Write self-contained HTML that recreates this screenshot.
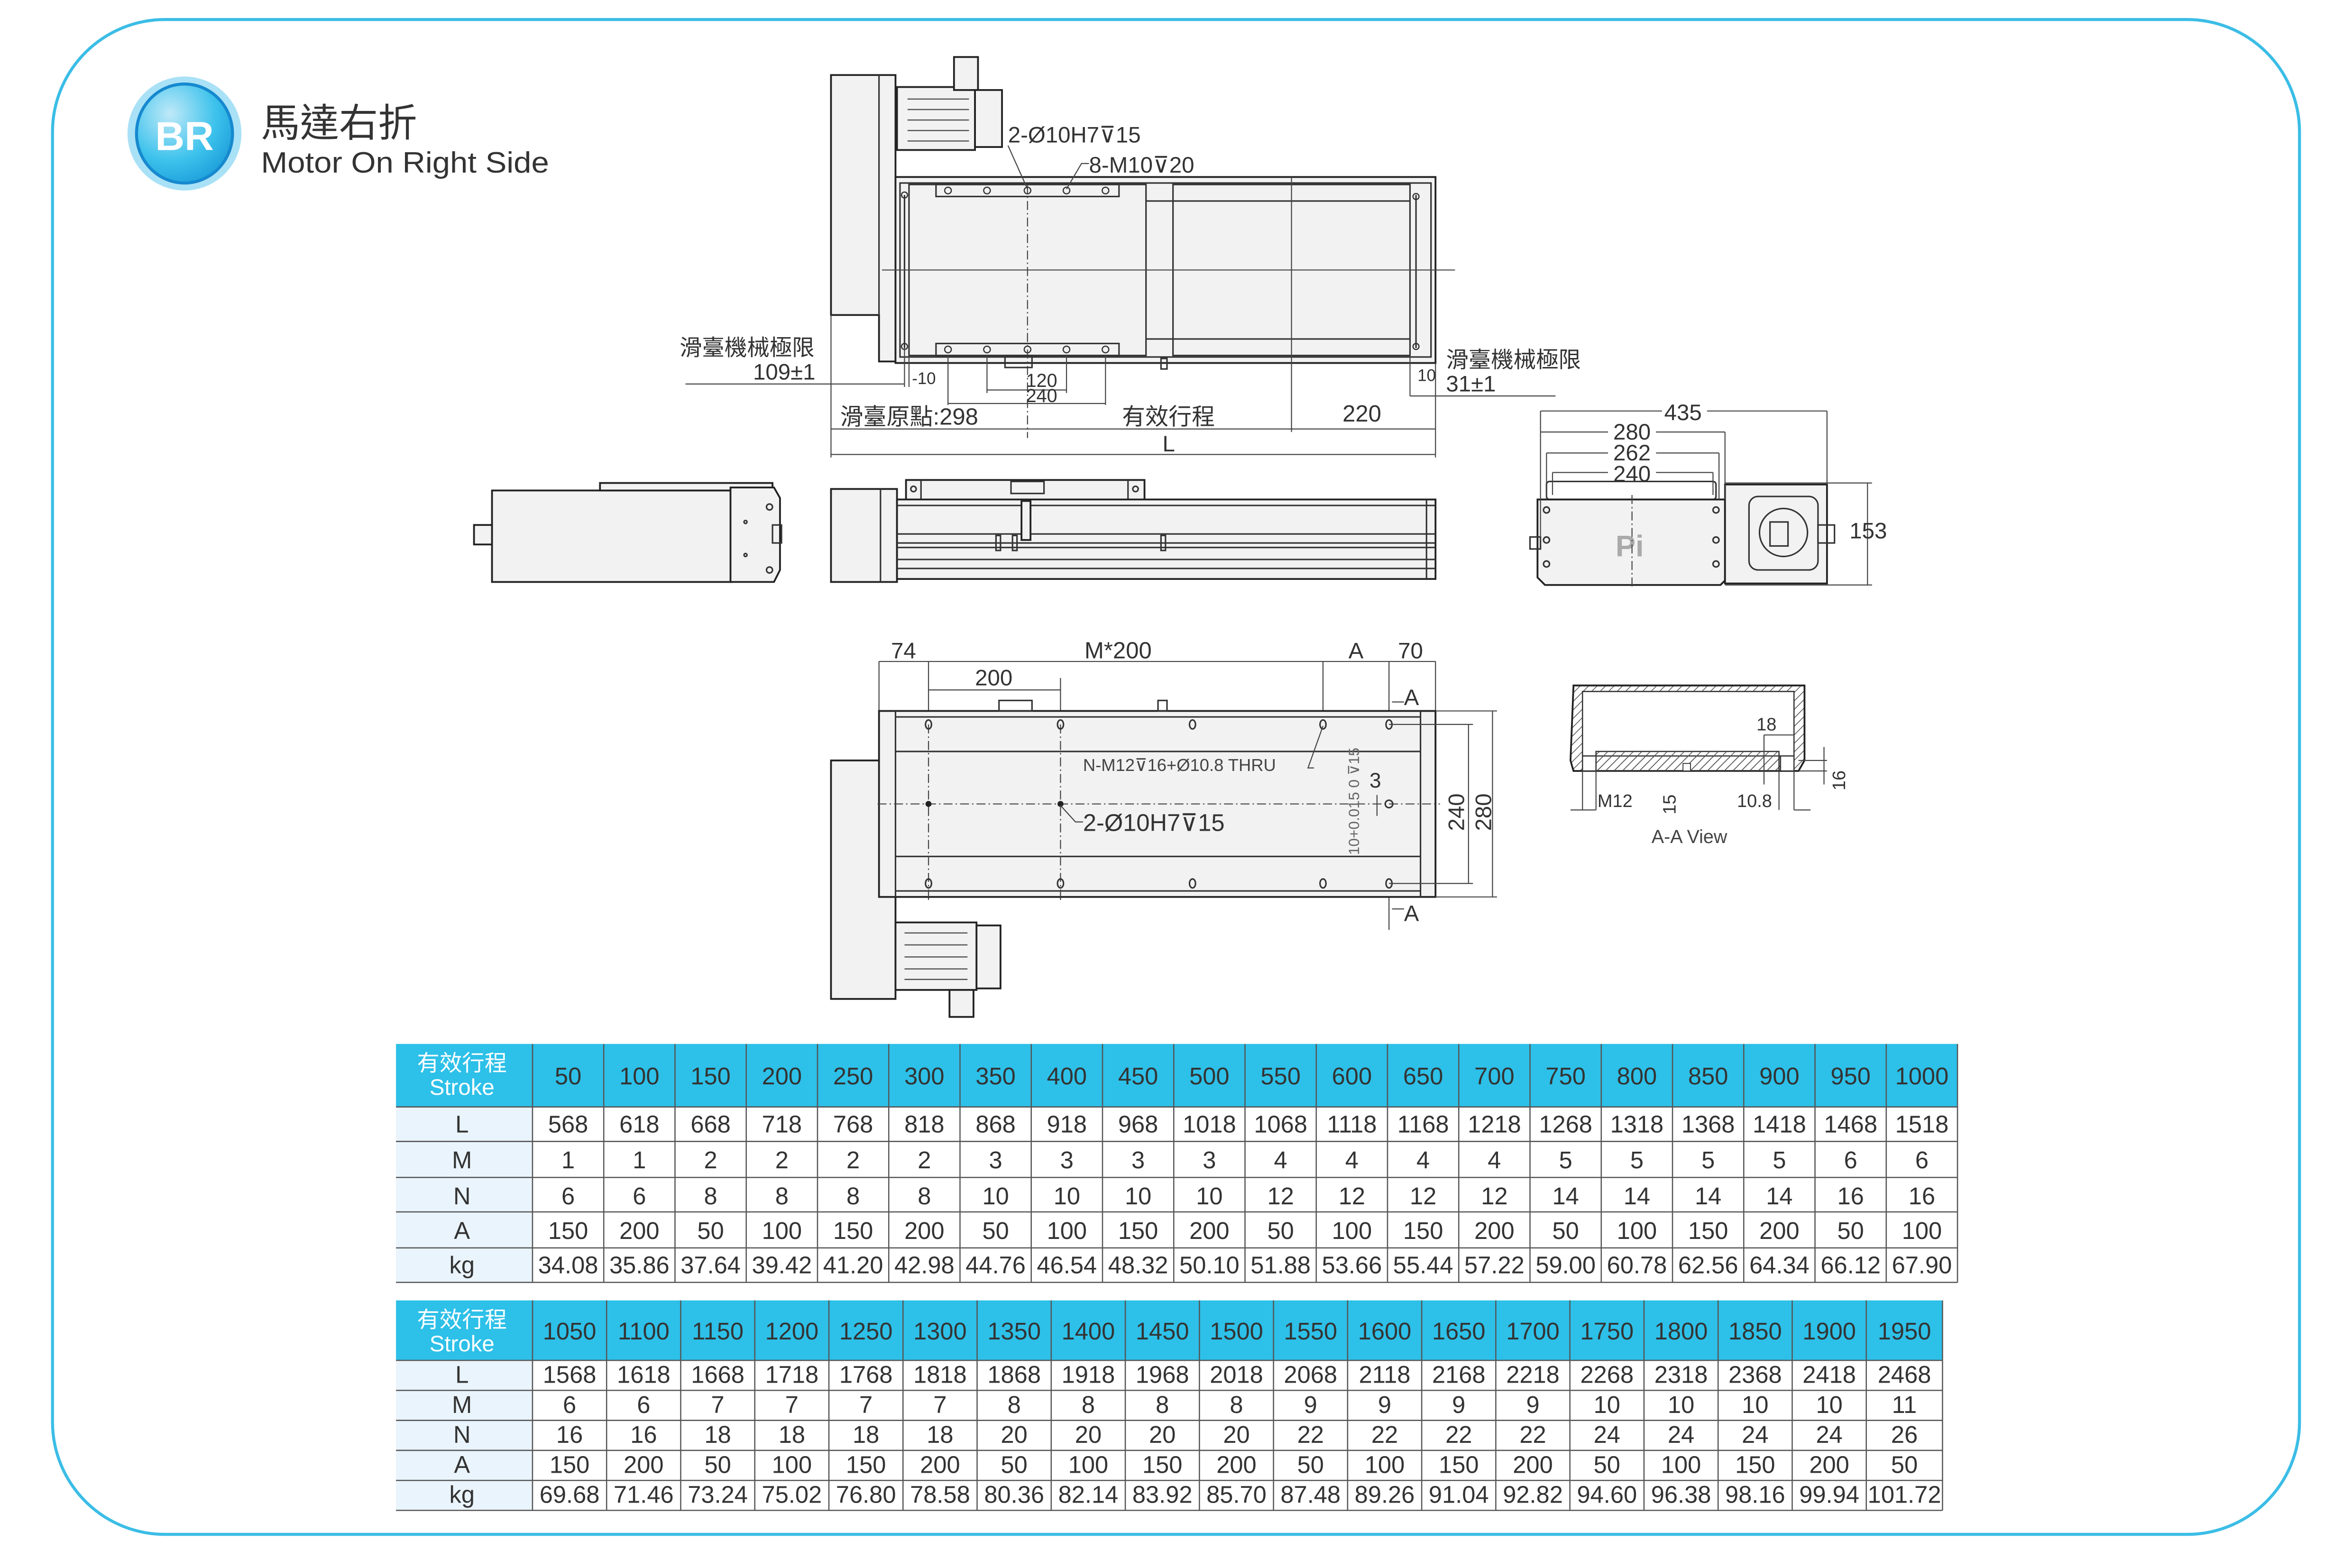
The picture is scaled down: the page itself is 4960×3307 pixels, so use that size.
<!DOCTYPE html>
<html><head><meta charset="utf-8"><style>
html,body{margin:0;padding:0;background:#fff;}
svg{display:block;}
text{font-family:"Liberation Sans","Noto Sans CJK TC",sans-serif;fill:#333;}
.t{font-size:16px;text-anchor:middle;}
.h{font-size:16px;text-anchor:middle;fill:#fff;}
.s{stroke:#333;fill:none;stroke-width:1;}
.b{stroke:#222;fill:#f2f2f2;stroke-width:1.2;}
.d{stroke:#444;fill:none;stroke-width:0.7;}
.dash{stroke:#444;fill:none;stroke-width:0.7;stroke-dasharray:6 2 1 2;}
.gl{stroke:#555;stroke-width:0.8;}
</style></head><body>
<svg width="4960" height="3307" viewBox="0 0 1568 1045.4" xmlns="http://www.w3.org/2000/svg">
<defs>
<radialGradient id="g1" cx="0.35" cy="0.3" r="0.8"><stop offset="0" stop-color="#bfe9f8"/><stop offset="0.6" stop-color="#3cc2ec"/><stop offset="1" stop-color="#1a9ad8"/></radialGradient>
<pattern id="hatch" width="4" height="4" patternUnits="userSpaceOnUse" patternTransform="rotate(45)"><line x1="0" y1="0" x2="0" y2="4" stroke="#555" stroke-width="1"/></pattern>
</defs>
<rect x="0" y="0" width="1568" height="1046" fill="#fff"/>
<rect x="35" y="13" width="1498" height="1010" rx="75" ry="75" fill="none" stroke="#3bbde6" stroke-width="2"/>

<!-- header -->
<ellipse cx="123" cy="89" rx="38" ry="38" fill="#a9e1f6"/>
<ellipse cx="123" cy="89" rx="32" ry="33" fill="url(#g1)" stroke="#1689cf" stroke-width="2"/>
<text x="123" y="100" style="font-size:27px;font-weight:bold;fill:#fff;text-anchor:middle;">BR</text>
<text x="174" y="91" style="font-size:26px;fill:#333;">馬達右折</text>
<text x="174" y="115" style="font-size:19.5px;fill:#333;" textLength="192" lengthAdjust="spacingAndGlyphs">Motor On Right Side</text>

<!-- ============ TOP VIEW ============ -->
<rect class="b" x="598" y="58" width="52" height="42"/>
<rect class="b" x="636" y="38" width="16" height="22"/>
<rect class="b" x="650" y="60" width="18" height="38"/>
<line class="gl" x1="605" y1="66" x2="646" y2="66"/><line class="gl" x1="605" y1="73" x2="646" y2="73"/>
<line class="gl" x1="605" y1="80" x2="646" y2="80"/><line class="gl" x1="605" y1="87" x2="646" y2="87"/>
<line class="gl" x1="605" y1="94" x2="646" y2="94"/>
<path class="b" d="M554 50 H597 V241 H586 V210 H554 Z"/>
<line class="s" x1="586" y1="50" x2="586" y2="210"/>
<rect class="b" x="597" y="118" width="360" height="124"/>
<rect class="s" x="600" y="122" width="354" height="116" fill="#f2f2f2"/>
<rect class="s" x="606" y="123" width="158" height="114" fill="#f4f4f4"/>
<rect class="s" x="782" y="123" width="158" height="114"/>
<line class="s" x1="764" y1="134" x2="940" y2="134" stroke-width="1.5"/>
<line class="s" x1="764" y1="226" x2="940" y2="226" stroke-width="1.5"/>
<line class="s" x1="603" y1="130" x2="603" y2="232"/><line class="s" x1="944" y1="130" x2="944" y2="232"/>
<rect class="s" x="624" y="123" width="122" height="8" fill="#fff"/>
<rect class="s" x="624" y="229" width="122" height="8" fill="#fff"/>
<g fill="none" stroke="#333" stroke-width="0.8">
<circle cx="632" cy="127" r="2.2"/><circle cx="658" cy="127" r="2.2"/><circle cx="685" cy="127" r="2.2"/><circle cx="711" cy="127" r="2.2"/><circle cx="737" cy="127" r="2.2"/>
<circle cx="632" cy="233" r="2.2"/><circle cx="658" cy="233" r="2.2"/><circle cx="685" cy="233" r="2.2"/><circle cx="711" cy="233" r="2.2"/><circle cx="737" cy="233" r="2.2"/>
<circle cx="603" cy="130" r="2"/><circle cx="603" cy="231" r="2"/><circle cx="944" cy="131" r="2"/><circle cx="944" cy="231" r="2"/>
</g>
<line class="d" x1="588" y1="180" x2="970" y2="180"/>
<line class="dash" x1="685" y1="123" x2="685" y2="292"/>
<line class="d" x1="861" y1="118" x2="861" y2="288"/>
<rect class="s" x="670" y="237" width="18" height="8"/>
<rect class="s" x="774" y="239" width="4" height="7"/>
<text x="672" y="95" style="font-size:15px;">2-Ø10H7⊽15</text>
<text x="726" y="115" style="font-size:15px;">8-M10⊽20</text>
<path class="d" d="M672 97 L685 126"/><path class="d" d="M726 109 H721 L711 126"/>
<text x="453" y="237" style="font-size:15px;">滑臺機械極限</text>
<text x="502" y="253" style="font-size:15px;">109±1</text>
<line class="d" x1="457" y1="256" x2="603" y2="256"/>
<line class="d" x1="554" y1="210" x2="554" y2="305"/>
<line class="d" x1="603" y1="232" x2="603" y2="258"/>
<line class="d" x1="606" y1="237" x2="606" y2="258"/>
<text x="608" y="256" style="font-size:11px;">-10</text>
<line class="d" x1="658" y1="237" x2="658" y2="262"/><line class="d" x1="711" y1="237" x2="711" y2="262"/>
<line class="d" x1="658" y1="260" x2="711" y2="260"/>
<text x="684" y="258" style="font-size:12.5px;">120</text>
<line class="d" x1="632" y1="237" x2="632" y2="270"/><line class="d" x1="737" y1="237" x2="737" y2="270"/>
<line class="d" x1="632" y1="269" x2="737" y2="269"/>
<text x="684" y="268" style="font-size:12.5px;">240</text>
<text x="560" y="283" style="font-size:15.5px;">滑臺原點:298</text>
<text x="748" y="283" style="font-size:15.5px;">有效行程</text>
<text x="895" y="281" style="font-size:15.5px;">220</text>
<line class="d" x1="554" y1="286" x2="957" y2="286"/>
<line class="d" x1="957" y1="242" x2="957" y2="305"/>
<text x="775" y="301" style="font-size:15px;">L</text>
<line class="d" x1="554" y1="303" x2="957" y2="303"/>
<line class="d" x1="940" y1="237" x2="940" y2="264"/>
<text x="945" y="254" style="font-size:11px;">10</text>
<text x="964" y="245" style="font-size:15px;">滑臺機械極限</text>
<text x="964" y="261" style="font-size:15px;">31±1</text>
<line class="d" x1="940" y1="264" x2="1037" y2="264"/>

<!-- ============ SIDE VIEWS ============ -->
<rect class="b" x="328" y="327" width="160" height="61"/>
<rect class="b" x="400" y="322" width="115" height="5"/>
<path class="b" d="M487 325 H516 L520 332 V380 L516 388 H487 Z"/>
<rect class="b" x="316" y="350" width="12" height="13"/>
<rect class="s" x="515" y="350" width="6" height="12"/>
<circle class="s" cx="513" cy="338" r="2"/><circle class="s" cx="513" cy="380" r="2"/><circle class="s" cx="497" cy="348" r="1"/><circle class="s" cx="497" cy="370" r="1"/>
<!-- main side -->
<rect class="b" x="604" y="320" width="159" height="14"/>
<line class="s" x1="614" y1="320" x2="614" y2="334"/><line class="s" x1="752" y1="320" x2="752" y2="334"/>
<rect class="s" x="674" y="321" width="22" height="8" fill="#fff"/>
<circle class="s" cx="609" cy="326" r="1.8"/><circle class="s" cx="757" cy="326" r="1.8"/>
<rect class="b" x="554" y="326" width="44" height="62"/>
<line class="s" x1="587" y1="326" x2="587" y2="388"/>
<rect class="b" x="598" y="333" width="359" height="53"/>
<line class="s" x1="598" y1="337" x2="957" y2="337"/>
<line class="s" x1="598" y1="356" x2="957" y2="356" stroke-width="1.3"/>
<line class="s" x1="598" y1="362" x2="957" y2="362" stroke-width="1.8"/>
<line class="s" x1="598" y1="365" x2="957" y2="365"/>
<line class="s" x1="598" y1="373" x2="957" y2="373" stroke-width="1.2"/>
<line class="s" x1="598" y1="379" x2="957" y2="379" stroke-width="1.2"/>
<rect class="b" x="681" y="334" width="6" height="26"/>
<rect class="s" x="664" y="357" width="3" height="10"/><rect class="s" x="675" y="357" width="3" height="10"/><rect class="s" x="774" y="357" width="3" height="10"/>
<line class="s" x1="951" y1="333" x2="951" y2="386"/>
<!-- right end view -->
<rect class="s" x="1031" y="321" width="113" height="12" rx="2"/>
<path class="b" d="M1025 333 H1150 V387 L1147 390 H1030 L1025 385 Z"/>
<rect class="b" x="1150" y="323" width="68" height="66"/>
<rect class="s" x="1166" y="331" width="46" height="49" rx="6" stroke-width="1.5"/>
<circle class="s" cx="1189" cy="355" r="16" stroke-width="1.2"/>
<rect class="s" x="1180" y="348" width="12" height="16"/>
<rect class="s" x="1212" y="350" width="11" height="12"/>
<rect class="s" x="1020" y="358" width="7" height="8"/>
<text x="1077" y="371" style="font-size:20px;font-weight:bold;fill:#aaa;">Pi</text>
<line class="dash" x1="1088" y1="330" x2="1088" y2="392"/>
<g class="s"><circle cx="1031" cy="340" r="2"/><circle cx="1144" cy="340" r="2"/><circle cx="1031" cy="376" r="2"/><circle cx="1144" cy="376" r="2"/><circle cx="1031" cy="360" r="2"/><circle cx="1144" cy="360" r="2"/></g>
<line class="d" x1="1027" y1="274" x2="1108" y2="274"/><line class="d" x1="1138" y1="274" x2="1218" y2="274"/>
<text x="1122" y="280" class="t" style="font-size:15px;">435</text>
<line class="d" x1="1027" y1="274" x2="1027" y2="360"/><line class="d" x1="1218" y1="274" x2="1218" y2="323"/>
<line class="d" x1="1027" y1="288" x2="1072" y2="288"/><line class="d" x1="1104" y1="288" x2="1150" y2="288"/>
<text x="1088" y="293" class="t" style="font-size:15px;">280</text>
<line class="d" x1="1150" y1="288" x2="1150" y2="333"/>
<line class="d" x1="1031" y1="302" x2="1072" y2="302"/><line class="d" x1="1104" y1="302" x2="1146" y2="302"/>
<text x="1088" y="307" class="t" style="font-size:15px;">262</text>
<line class="d" x1="1031" y1="302" x2="1031" y2="333"/><line class="d" x1="1146" y1="302" x2="1146" y2="333"/>
<line class="d" x1="1035" y1="315" x2="1072" y2="315"/><line class="d" x1="1104" y1="315" x2="1142" y2="315"/>
<text x="1088" y="321" class="t" style="font-size:15px;">240</text>
<line class="d" x1="1035" y1="315" x2="1035" y2="330"/><line class="d" x1="1142" y1="315" x2="1142" y2="330"/>
<line class="d" x1="1150" y1="322" x2="1248" y2="322"/><line class="d" x1="1150" y1="390" x2="1248" y2="390"/>
<line class="d" x1="1245" y1="322" x2="1245" y2="390"/>
<text x="1233" y="359" style="font-size:15px;">153</text>

<!-- ============ BOTTOM VIEW ============ -->
<line class="d" x1="586" y1="441" x2="957" y2="441"/>
<line class="d" x1="586" y1="441" x2="586" y2="474"/><line class="d" x1="619" y1="441" x2="619" y2="600"/>
<line class="d" x1="882" y1="441" x2="882" y2="483"/><line class="d" x1="926" y1="441" x2="926" y2="620"/>
<line class="d" x1="957" y1="441" x2="957" y2="474"/>
<text x="594" y="439" style="font-size:15px;">74</text>
<text x="723" y="439" style="font-size:15.5px;">M*200</text>
<text x="899" y="439" style="font-size:15px;">A</text>
<text x="932" y="439" style="font-size:15px;">70</text>
<line class="d" x1="619" y1="460" x2="707" y2="460"/>
<line class="d" x1="707" y1="452" x2="707" y2="600"/>
<text x="650" y="457" style="font-size:15px;">200</text>
<text x="936" y="470" style="font-size:15px;">A</text><line class="d" x1="928" y1="468" x2="936" y2="468"/>
<text x="936" y="614" style="font-size:15px;">A</text><line class="d" x1="928" y1="606" x2="936" y2="606"/>
<rect class="b" x="554" y="507" width="43" height="159"/>
<rect class="b" x="597" y="615" width="54" height="45"/>
<rect class="b" x="651" y="617" width="16" height="42"/>
<rect class="b" x="633" y="660" width="16" height="18"/>
<line class="gl" x1="603" y1="622" x2="645" y2="622"/><line class="gl" x1="603" y1="630" x2="645" y2="630"/><line class="gl" x1="603" y1="638" x2="645" y2="638"/><line class="gl" x1="603" y1="646" x2="645" y2="646"/><line class="gl" x1="603" y1="653" x2="645" y2="653"/>
<rect class="b" x="586" y="474" width="371" height="124" stroke-width="1.8"/>
<line class="s" x1="597" y1="474" x2="597" y2="598"/><line class="s" x1="947" y1="474" x2="947" y2="598"/>
<line class="s" x1="597" y1="478" x2="947" y2="478"/><line class="s" x1="597" y1="594" x2="947" y2="594"/>
<line class="s" x1="597" y1="501" x2="947" y2="501" stroke-width="2"/>
<line class="s" x1="597" y1="571" x2="947" y2="571" stroke-width="2"/>
<rect class="s" x="666" y="467" width="22" height="7"/><rect class="s" x="772" y="467" width="6" height="7"/>
<line class="dash" x1="585" y1="536" x2="960" y2="536"/>
<line class="dash" x1="619" y1="483" x2="619" y2="598"/><line class="dash" x1="707" y1="483" x2="707" y2="598"/>
<g class="s">
<ellipse cx="619" cy="483" rx="2" ry="3"/><ellipse cx="707" cy="483" rx="2" ry="3"/><ellipse cx="795" cy="483" rx="2" ry="3"/><ellipse cx="882" cy="483" rx="2" ry="3"/><ellipse cx="926" cy="483" rx="2" ry="3"/>
<ellipse cx="619" cy="589" rx="2" ry="3"/><ellipse cx="707" cy="589" rx="2" ry="3"/><ellipse cx="795" cy="589" rx="2" ry="3"/><ellipse cx="882" cy="589" rx="2" ry="3"/><ellipse cx="926" cy="589" rx="2" ry="3"/>
<circle cx="926" cy="536" r="2.5"/>
</g>
<circle cx="619" cy="536" r="2" fill="#222"/><circle cx="707" cy="536" r="2" fill="#222"/>
<text x="722" y="514" style="font-size:11.5px;fill:#444;">N-M12⊽16+Ø10.8 THRU</text>
<path class="d" d="M876 512 H872 L882 484"/>
<text x="722" y="554" style="font-size:16px;">2-Ø10H7⊽15</text>
<path class="d" d="M722 548 H717 L707 537"/>
<text transform="translate(906,570) rotate(-90)" style="font-size:10px;fill:#666;">10+0.015 0 ⊽15</text>
<text x="913" y="525" style="font-size:14px;">3</text>
<line class="d" x1="918" y1="530" x2="918" y2="544"/>
<line class="d" x1="926" y1="483" x2="982" y2="483"/><line class="d" x1="926" y1="589" x2="982" y2="589"/>
<line class="d" x1="979" y1="483" x2="979" y2="589"/>
<line class="d" x1="957" y1="474" x2="998" y2="474"/><line class="d" x1="957" y1="598" x2="998" y2="598"/>
<line class="d" x1="995" y1="474" x2="995" y2="598"/>
<text transform="translate(976,554) rotate(-90)" style="font-size:15px;">240</text>
<text transform="translate(994,554) rotate(-90)" style="font-size:15px;">280</text>

<!-- A-A view -->
<path d="M1049 457 H1203 V507 L1199 514 H1049 L1047 507 Z" fill="url(#hatch)" stroke="#222" stroke-width="1.2"/>
<path d="M1055 461 H1196 V504 H1055 Z" fill="#fff" stroke="#333" stroke-width="0.8"/>
<rect x="1064" y="501" width="122" height="13" fill="url(#hatch)" stroke="#333" stroke-width="0.8"/>
<rect x="1055" y="504" width="9" height="10" fill="#fff" stroke="#333" stroke-width="0.8"/>
<rect x="1187" y="504" width="9" height="10" fill="#fff" stroke="#333" stroke-width="0.8"/>
<rect x="1122" y="509" width="5" height="5" fill="#fff" stroke="#333" stroke-width="0.6"/>
<text x="1171" y="487" style="font-size:12px;">18</text>
<line class="d" x1="1176" y1="490" x2="1196" y2="490"/>
<line class="d" x1="1176" y1="490" x2="1176" y2="523"/>
<text x="1065" y="538" style="font-size:12px;">M12</text>
<line class="d" x1="1047" y1="540" x2="1064" y2="540"/><line class="d" x1="1055" y1="514" x2="1055" y2="540"/><line class="d" x1="1064" y1="514" x2="1064" y2="540"/>
<text transform="translate(1117,543) rotate(-90)" style="font-size:12px;">15</text>
<text x="1158" y="538" style="font-size:12px;">10.8</text>
<line class="d" x1="1186" y1="514" x2="1186" y2="540"/><line class="d" x1="1196" y1="514" x2="1196" y2="540"/>
<line class="d" x1="1196" y1="540" x2="1207" y2="540"/>
<line class="d" x1="1199" y1="507" x2="1218" y2="507"/><line class="d" x1="1199" y1="514" x2="1218" y2="514"/>
<line class="d" x1="1216" y1="498" x2="1216" y2="523"/>
<text transform="translate(1230,527) rotate(-90)" style="font-size:12px;">16</text>
<text x="1101" y="562" style="font-size:12.5px;fill:#444;">A-A View</text>

<!-- ============ TABLE 1 ============ -->
<rect x="264" y="696" width="1041" height="42" fill="#2dc0e8"/>
<rect x="264" y="738" width="91" height="117" fill="#eaf4fc"/>
<g stroke="#555" stroke-width="0.8">
<line x1="264" y1="738" x2="1305" y2="738"/><line x1="264" y1="761" x2="1305" y2="761"/><line x1="264" y1="785" x2="1305" y2="785"/><line x1="264" y1="808" x2="1305" y2="808"/><line x1="264" y1="832" x2="1305" y2="832"/><line x1="264" y1="855" x2="1305" y2="855"/>
<line x1="355" y1="696" x2="355" y2="855"/><line x1="402.5" y1="696" x2="402.5" y2="855"/><line x1="450" y1="696" x2="450" y2="855"/><line x1="497.5" y1="696" x2="497.5" y2="855"/><line x1="545" y1="696" x2="545" y2="855"/><line x1="592.5" y1="696" x2="592.5" y2="855"/><line x1="640" y1="696" x2="640" y2="855"/><line x1="687.5" y1="696" x2="687.5" y2="855"/><line x1="735" y1="696" x2="735" y2="855"/><line x1="782.5" y1="696" x2="782.5" y2="855"/><line x1="830" y1="696" x2="830" y2="855"/><line x1="877.5" y1="696" x2="877.5" y2="855"/><line x1="925" y1="696" x2="925" y2="855"/><line x1="972.5" y1="696" x2="972.5" y2="855"/><line x1="1020" y1="696" x2="1020" y2="855"/><line x1="1067.5" y1="696" x2="1067.5" y2="855"/><line x1="1115" y1="696" x2="1115" y2="855"/><line x1="1162.5" y1="696" x2="1162.5" y2="855"/><line x1="1210" y1="696" x2="1210" y2="855"/><line x1="1257.5" y1="696" x2="1257.5" y2="855"/><line x1="1305" y1="696" x2="1305" y2="855"/>
</g>
<text x="308" y="714" class="h" style="font-size:15px;">有效行程</text>
<text x="308" y="730" class="h" style="font-size:15px;">Stroke</text>
<g class="h">
<text x="378.75" y="723">50</text><text x="426.25" y="723">100</text><text x="473.75" y="723">150</text><text x="521.25" y="723">200</text><text x="568.75" y="723">250</text><text x="616.25" y="723">300</text><text x="663.75" y="723">350</text><text x="711.25" y="723">400</text><text x="758.75" y="723">450</text><text x="806.25" y="723">500</text><text x="853.75" y="723">550</text><text x="901.25" y="723">600</text><text x="948.75" y="723">650</text><text x="996.25" y="723">700</text><text x="1043.75" y="723">750</text><text x="1091.25" y="723">800</text><text x="1138.75" y="723">850</text><text x="1186.25" y="723">900</text><text x="1233.75" y="723">950</text><text x="1281.25" y="723">1000</text>
</g>
<g class="t">
<text x="308" y="755">L</text><text x="308" y="779">M</text><text x="308" y="803">N</text><text x="308" y="826">A</text><text x="308" y="849">kg</text>
<text x="378.75" y="755">568</text><text x="426.25" y="755">618</text><text x="473.75" y="755">668</text><text x="521.25" y="755">718</text><text x="568.75" y="755">768</text><text x="616.25" y="755">818</text><text x="663.75" y="755">868</text><text x="711.25" y="755">918</text><text x="758.75" y="755">968</text><text x="806.25" y="755">1018</text><text x="853.75" y="755">1068</text><text x="901.25" y="755">1118</text><text x="948.75" y="755">1168</text><text x="996.25" y="755">1218</text><text x="1043.75" y="755">1268</text><text x="1091.25" y="755">1318</text><text x="1138.75" y="755">1368</text><text x="1186.25" y="755">1418</text><text x="1233.75" y="755">1468</text><text x="1281.25" y="755">1518</text>
<text x="378.75" y="779">1</text><text x="426.25" y="779">1</text><text x="473.75" y="779">2</text><text x="521.25" y="779">2</text><text x="568.75" y="779">2</text><text x="616.25" y="779">2</text><text x="663.75" y="779">3</text><text x="711.25" y="779">3</text><text x="758.75" y="779">3</text><text x="806.25" y="779">3</text><text x="853.75" y="779">4</text><text x="901.25" y="779">4</text><text x="948.75" y="779">4</text><text x="996.25" y="779">4</text><text x="1043.75" y="779">5</text><text x="1091.25" y="779">5</text><text x="1138.75" y="779">5</text><text x="1186.25" y="779">5</text><text x="1233.75" y="779">6</text><text x="1281.25" y="779">6</text>
<text x="378.75" y="803">6</text><text x="426.25" y="803">6</text><text x="473.75" y="803">8</text><text x="521.25" y="803">8</text><text x="568.75" y="803">8</text><text x="616.25" y="803">8</text><text x="663.75" y="803">10</text><text x="711.25" y="803">10</text><text x="758.75" y="803">10</text><text x="806.25" y="803">10</text><text x="853.75" y="803">12</text><text x="901.25" y="803">12</text><text x="948.75" y="803">12</text><text x="996.25" y="803">12</text><text x="1043.75" y="803">14</text><text x="1091.25" y="803">14</text><text x="1138.75" y="803">14</text><text x="1186.25" y="803">14</text><text x="1233.75" y="803">16</text><text x="1281.25" y="803">16</text>
<text x="378.75" y="826">150</text><text x="426.25" y="826">200</text><text x="473.75" y="826">50</text><text x="521.25" y="826">100</text><text x="568.75" y="826">150</text><text x="616.25" y="826">200</text><text x="663.75" y="826">50</text><text x="711.25" y="826">100</text><text x="758.75" y="826">150</text><text x="806.25" y="826">200</text><text x="853.75" y="826">50</text><text x="901.25" y="826">100</text><text x="948.75" y="826">150</text><text x="996.25" y="826">200</text><text x="1043.75" y="826">50</text><text x="1091.25" y="826">100</text><text x="1138.75" y="826">150</text><text x="1186.25" y="826">200</text><text x="1233.75" y="826">50</text><text x="1281.25" y="826">100</text>
<text x="378.75" y="849">34.08</text><text x="426.25" y="849">35.86</text><text x="473.75" y="849">37.64</text><text x="521.25" y="849">39.42</text><text x="568.75" y="849">41.20</text><text x="616.25" y="849">42.98</text><text x="663.75" y="849">44.76</text><text x="711.25" y="849">46.54</text><text x="758.75" y="849">48.32</text><text x="806.25" y="849">50.10</text><text x="853.75" y="849">51.88</text><text x="901.25" y="849">53.66</text><text x="948.75" y="849">55.44</text><text x="996.25" y="849">57.22</text><text x="1043.75" y="849">59.00</text><text x="1091.25" y="849">60.78</text><text x="1138.75" y="849">62.56</text><text x="1186.25" y="849">64.34</text><text x="1233.75" y="849">66.12</text><text x="1281.25" y="849">67.90</text>
</g>

<!-- ============ TABLE 2 ============ -->
<rect x="264" y="867" width="1031" height="40" fill="#2dc0e8"/>
<rect x="264" y="907" width="91" height="100" fill="#eaf4fc"/>
<g stroke="#555" stroke-width="0.8">
<line x1="264" y1="907" x2="1295" y2="907"/><line x1="264" y1="927" x2="1295" y2="927"/><line x1="264" y1="947" x2="1295" y2="947"/><line x1="264" y1="967" x2="1295" y2="967"/><line x1="264" y1="987" x2="1295" y2="987"/><line x1="264" y1="1007" x2="1295" y2="1007"/>
<line x1="355" y1="867" x2="355" y2="1007"/><line x1="404.4" y1="867" x2="404.4" y2="1007"/><line x1="453.8" y1="867" x2="453.8" y2="1007"/><line x1="503.2" y1="867" x2="503.2" y2="1007"/><line x1="552.6" y1="867" x2="552.6" y2="1007"/><line x1="602" y1="867" x2="602" y2="1007"/><line x1="651.4" y1="867" x2="651.4" y2="1007"/><line x1="700.8" y1="867" x2="700.8" y2="1007"/><line x1="750.2" y1="867" x2="750.2" y2="1007"/><line x1="799.6" y1="867" x2="799.6" y2="1007"/><line x1="849" y1="867" x2="849" y2="1007"/><line x1="898.4" y1="867" x2="898.4" y2="1007"/><line x1="947.8" y1="867" x2="947.8" y2="1007"/><line x1="997.2" y1="867" x2="997.2" y2="1007"/><line x1="1046.6" y1="867" x2="1046.6" y2="1007"/><line x1="1096" y1="867" x2="1096" y2="1007"/><line x1="1145.4" y1="867" x2="1145.4" y2="1007"/><line x1="1194.8" y1="867" x2="1194.8" y2="1007"/><line x1="1244.2" y1="867" x2="1244.2" y2="1007"/><line x1="1295" y1="867" x2="1295" y2="1007"/>
</g>
<text x="308" y="885" class="h" style="font-size:15px;">有效行程</text>
<text x="308" y="901" class="h" style="font-size:15px;">Stroke</text>
<g class="h">
<text x="379.7" y="893">1050</text><text x="429.1" y="893">1100</text><text x="478.5" y="893">1150</text><text x="527.9" y="893">1200</text><text x="577.3" y="893">1250</text><text x="626.7" y="893">1300</text><text x="676.1" y="893">1350</text><text x="725.5" y="893">1400</text><text x="774.9" y="893">1450</text><text x="824.3" y="893">1500</text><text x="873.7" y="893">1550</text><text x="923.1" y="893">1600</text><text x="972.5" y="893">1650</text><text x="1021.9" y="893">1700</text><text x="1071.3" y="893">1750</text><text x="1120.7" y="893">1800</text><text x="1170.1" y="893">1850</text><text x="1219.5" y="893">1900</text><text x="1269.6" y="893">1950</text>
</g>
<g class="t">
<text x="308" y="922">L</text><text x="308" y="942">M</text><text x="308" y="962">N</text><text x="308" y="982">A</text><text x="308" y="1002">kg</text>
<text x="379.7" y="922">1568</text><text x="429.1" y="922">1618</text><text x="478.5" y="922">1668</text><text x="527.9" y="922">1718</text><text x="577.3" y="922">1768</text><text x="626.7" y="922">1818</text><text x="676.1" y="922">1868</text><text x="725.5" y="922">1918</text><text x="774.9" y="922">1968</text><text x="824.3" y="922">2018</text><text x="873.7" y="922">2068</text><text x="923.1" y="922">2118</text><text x="972.5" y="922">2168</text><text x="1021.9" y="922">2218</text><text x="1071.3" y="922">2268</text><text x="1120.7" y="922">2318</text><text x="1170.1" y="922">2368</text><text x="1219.5" y="922">2418</text><text x="1269.6" y="922">2468</text>
<text x="379.7" y="942">6</text><text x="429.1" y="942">6</text><text x="478.5" y="942">7</text><text x="527.9" y="942">7</text><text x="577.3" y="942">7</text><text x="626.7" y="942">7</text><text x="676.1" y="942">8</text><text x="725.5" y="942">8</text><text x="774.9" y="942">8</text><text x="824.3" y="942">8</text><text x="873.7" y="942">9</text><text x="923.1" y="942">9</text><text x="972.5" y="942">9</text><text x="1021.9" y="942">9</text><text x="1071.3" y="942">10</text><text x="1120.7" y="942">10</text><text x="1170.1" y="942">10</text><text x="1219.5" y="942">10</text><text x="1269.6" y="942">11</text>
<text x="379.7" y="962">16</text><text x="429.1" y="962">16</text><text x="478.5" y="962">18</text><text x="527.9" y="962">18</text><text x="577.3" y="962">18</text><text x="626.7" y="962">18</text><text x="676.1" y="962">20</text><text x="725.5" y="962">20</text><text x="774.9" y="962">20</text><text x="824.3" y="962">20</text><text x="873.7" y="962">22</text><text x="923.1" y="962">22</text><text x="972.5" y="962">22</text><text x="1021.9" y="962">22</text><text x="1071.3" y="962">24</text><text x="1120.7" y="962">24</text><text x="1170.1" y="962">24</text><text x="1219.5" y="962">24</text><text x="1269.6" y="962">26</text>
<text x="379.7" y="982">150</text><text x="429.1" y="982">200</text><text x="478.5" y="982">50</text><text x="527.9" y="982">100</text><text x="577.3" y="982">150</text><text x="626.7" y="982">200</text><text x="676.1" y="982">50</text><text x="725.5" y="982">100</text><text x="774.9" y="982">150</text><text x="824.3" y="982">200</text><text x="873.7" y="982">50</text><text x="923.1" y="982">100</text><text x="972.5" y="982">150</text><text x="1021.9" y="982">200</text><text x="1071.3" y="982">50</text><text x="1120.7" y="982">100</text><text x="1170.1" y="982">150</text><text x="1219.5" y="982">200</text><text x="1269.6" y="982">50</text>
<text x="379.7" y="1002">69.68</text><text x="429.1" y="1002">71.46</text><text x="478.5" y="1002">73.24</text><text x="527.9" y="1002">75.02</text><text x="577.3" y="1002">76.80</text><text x="626.7" y="1002">78.58</text><text x="676.1" y="1002">80.36</text><text x="725.5" y="1002">82.14</text><text x="774.9" y="1002">83.92</text><text x="824.3" y="1002">85.70</text><text x="873.7" y="1002">87.48</text><text x="923.1" y="1002">89.26</text><text x="972.5" y="1002">91.04</text><text x="1021.9" y="1002">92.82</text><text x="1071.3" y="1002">94.60</text><text x="1120.7" y="1002">96.38</text><text x="1170.1" y="1002">98.16</text><text x="1219.5" y="1002">99.94</text><text x="1269.6" y="1002">101.72</text>
</g>
</svg>
</body></html>
